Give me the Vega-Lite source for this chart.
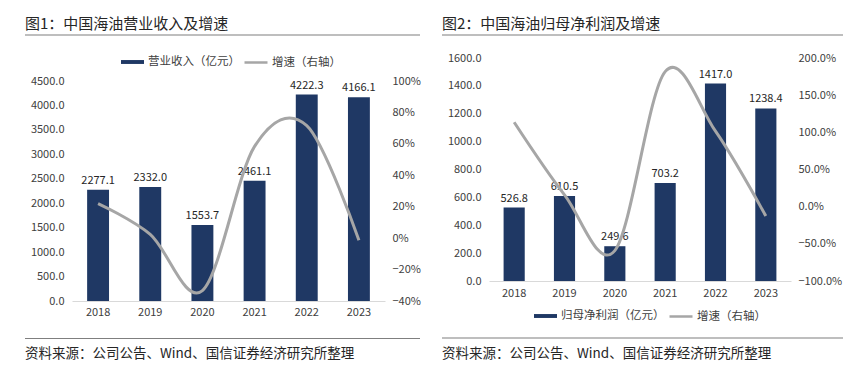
{
  "$schema": "https://vega.github.io/schema/vega-lite/v6.json",
  "background": "white",
  "padding": {"left": 25, "top": 16.5, "right": 5, "bottom": 5},
  "config": {
    "font": "Noto Sans CJK SC",
    "view": {"stroke": null},
    "axis": {"labelFont": "Noto Sans CJK SC", "labelColor": "#404040", "labelFontSize": 11, "grid": false, "ticks": false, "labelOverlap": false},
    "legend": {"labelFont": "Noto Sans CJK SC", "labelColor": "#404040", "labelFontSize": 11.5, "padding": 0, "labelOffset": 3},
    "title": {"font": "Noto Sans CJK SC", "fontWeight": "normal", "color": "#262626", "anchor": "start"}
  },
  "datasets": {
    "rev": [
      {"year": "2018", "value": 2277.1, "growth": 0.22},
      {"year": "2019", "value": 2332.0, "growth": 0.024},
      {"year": "2020", "value": 1553.7, "growth": -0.334},
      {"year": "2021", "value": 2461.1, "growth": 0.584},
      {"year": "2022", "value": 4222.3, "growth": 0.716},
      {"year": "2023", "value": 4166.1, "growth": -0.013}
    ],
    "np": [
      {"year": "2018", "value": 526.8, "growth": 1.135},
      {"year": "2019", "value": 610.5, "growth": 0.159},
      {"year": "2020", "value": 249.6, "growth": -0.591},
      {"year": "2021", "value": 703.2, "growth": 1.817},
      {"year": "2022", "value": 1417.0, "growth": 1.015},
      {"year": "2023", "value": 1238.4, "growth": -0.126}
    ]
  },
  "resolve": {"scale": {"fill": "independent", "stroke": "independent"}, "legend": {"fill": "independent", "stroke": "independent"}},
  "hconcat": [
    {
      "vconcat": [
        {
          "vconcat": [
            {
              "width": 395, "height": 1,
              "view": {"fill": "#7f7f7f", "stroke": null},
              "title": {"text": "图1：中国海油营业收入及增速", "fontSize": 15, "offset": 3},
              "data": {"values": []},
              "mark": "text",
              "encoding": {}
            },
            {
              "width": 360, "height": 220,
              "data": {"name": "rev"},
              "encoding": {
                "x": {"field": "year", "type": "ordinal", "scale": {"range": [47, 360], "paddingInner": 0.58, "paddingOuter": 0.29},
                      "axis": {"title": null, "labelAngle": 0, "domainColor": "#d9d9d9", "labelPadding": 5}}
              },
              "layer": [
                {
                  "encoding": {
                    "y": {"field": "value", "type": "quantitative", "scale": {"domain": [0, 4500], "nice": false},
                          "axis": {"title": null, "values": [0, 500, 1000, 1500, 2000, 2500, 3000, 3500, 4000, 4500], "format": ".1f", "domain": false, "labelPadding": 8, "offset": -47, "labelOverlap": false}}
                  },
                  "layer": [
                    {
                      "mark": {"type": "bar"},
                      "encoding": {
                        "fill": {"datum": "营业收入（亿元）", "scale": {"range": ["#1f3864"]},
                                 "legend": {"title": null, "orient": "none", "legendX": 95, "legendY": -31.5, "symbolType": "M-1,-0.17H1V0.17H-1Z", "symbolSize": 529}}
                      }
                    },
                    {
                      "mark": {"type": "text", "baseline": "bottom", "dy": -4, "fontSize": 11, "color": "#262626"},
                      "encoding": {
                        "text": {"field": "value", "type": "quantitative", "format": ".1f"}
                      }
                    }
                  ]
                },
                {
                  "mark": {"type": "line", "interpolate": "cardinal", "tension": 0, "strokeWidth": 3},
                  "encoding": {
                    "y": {"field": "growth", "type": "quantitative", "scale": {"domain": [-0.4, 1], "nice": false},
                          "axis": {"orient": "right", "title": null, "values": [-0.4, -0.2, 0, 0.2, 0.4, 0.6, 0.8, 1], "format": ".0%", "domain": false, "labelPadding": 7, "labelOverlap": false}},
                    "stroke": {"datum": "增速（右轴）", "scale": {"range": ["#a6a6a6"]},
                               "legend": {"title": null, "orient": "none", "legendX": 218, "legendY": -31.5, "symbolType": "stroke", "symbolSize": 529, "symbolStrokeWidth": 2.5}}
                  }
                }
              ],
              "resolve": {"scale": {"y": "independent"}}
            }
          ],
          "spacing": 13.5,
          "resolve": {"scale": {"fill": "independent", "stroke": "independent"}, "legend": {"fill": "independent", "stroke": "independent"}}
        },
        {
          "width": 395, "height": 1,
          "view": {"fill": "#7f7f7f", "stroke": null},
          "title": {"text": "资料来源：公司公告、Wind、国信证券经济研究所整理", "orient": "bottom", "fontSize": 13.5, "offset": 8},
          "data": {"values": []},
          "mark": "text",
          "encoding": {}
        }
      ],
      "spacing": 20.5,
      "resolve": {"scale": {"fill": "independent", "stroke": "independent"}, "legend": {"fill": "independent", "stroke": "independent"}}
    },
    {
      "vconcat": [
        {
          "vconcat": [
            {
              "width": 401, "height": 1,
              "view": {"fill": "#7f7f7f", "stroke": null},
              "title": {"text": "图2：中国海油归母净利润及增速", "fontSize": 15, "offset": 3},
              "data": {"values": []},
              "mark": "text",
              "encoding": {}
            },
            {
              "width": 349, "height": 223,
              "data": {"name": "np"},
              "encoding": {
                "x": {"field": "year", "type": "ordinal", "scale": {"range": [47, 349], "paddingInner": 0.58, "paddingOuter": 0.29},
                      "axis": {"title": null, "labelAngle": 0, "domainColor": "#d9d9d9", "labelPadding": 6}}
              },
              "layer": [
                {
                  "encoding": {
                    "y": {"field": "value", "type": "quantitative", "scale": {"domain": [0, 1600], "nice": false},
                          "axis": {"title": null, "values": [0, 200, 400, 600, 800, 1000, 1200, 1400, 1600], "format": ".1f", "domain": false, "labelPadding": 8, "offset": -47, "labelOverlap": false}}
                  },
                  "layer": [
                    {
                      "mark": {"type": "bar"},
                      "encoding": {
                        "fill": {"datum": "归母净利润（亿元）", "scale": {"range": ["#1f3864"]},
                                 "legend": {"title": null, "orient": "none", "legendX": 91, "legendY": 245.5, "symbolType": "M-1,-0.17H1V0.17H-1Z", "symbolSize": 529}}
                      }
                    },
                    {
                      "mark": {"type": "text", "baseline": "bottom", "dy": -4, "fontSize": 11, "color": "#262626"},
                      "encoding": {
                        "text": {"field": "value", "type": "quantitative", "format": ".1f"}
                      }
                    }
                  ]
                },
                {
                  "mark": {"type": "line", "interpolate": "cardinal", "tension": 0, "strokeWidth": 3},
                  "encoding": {
                    "y": {"field": "growth", "type": "quantitative", "scale": {"domain": [-1, 2], "nice": false},
                          "axis": {"orient": "right", "title": null, "values": [-1, -0.5, 0, 0.5, 1, 1.5, 2], "format": ".1%", "domain": false, "labelPadding": 7, "labelOverlap": false}},
                    "stroke": {"datum": "增速（右轴）", "scale": {"range": ["#a6a6a6"]},
                               "legend": {"title": null, "orient": "none", "legendX": 226, "legendY": 245.5, "symbolType": "stroke", "symbolSize": 529, "symbolStrokeWidth": 2.5}}
                  }
                }
              ],
              "resolve": {"scale": {"y": "independent"}}
            }
          ],
          "spacing": 16.5,
          "resolve": {"scale": {"fill": "independent", "stroke": "independent"}, "legend": {"fill": "independent", "stroke": "independent"}}
        },
        {
          "width": 401, "height": 1,
          "view": {"fill": "#7f7f7f", "stroke": null},
          "title": {"text": "资料来源：公司公告、Wind、国信证券经济研究所整理", "orient": "bottom", "fontSize": 13.5, "offset": 8},
          "data": {"values": []},
          "mark": "text",
          "encoding": {}
        }
      ],
      "spacing": 15,
      "resolve": {"scale": {"fill": "independent", "stroke": "independent"}, "legend": {"fill": "independent", "stroke": "independent"}}
    }
  ],
  "spacing": 21
}
